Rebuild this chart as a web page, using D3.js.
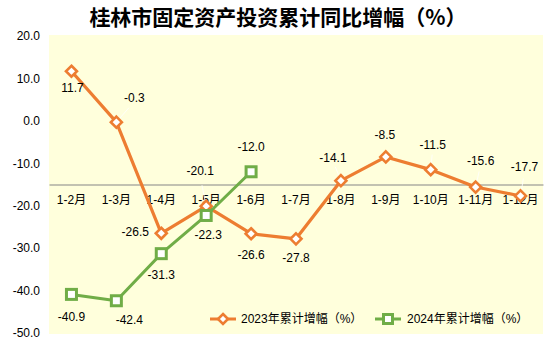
<!DOCTYPE html>
<html>
<head>
<meta charset="utf-8">
<script src="https://cdn.jsdelivr.net/npm/d3@7"></script>
<style>
  body { margin: 0; background: #fff; }
  text { font-family: "Liberation Sans", Arial, "Noto Sans CJK SC", sans-serif; }
</style>
</head>
<body>
<div id="chart"></div>
<script>
// data
const months = ["1-2月", "1-3月", "1-4月", "1-5月", "1-6月", "1-7月", "1-8月", "1-9月", "1-10月", "1-11月", "1-12月"];
const growth2023 = [11.7, -0.3, -26.5, -20.1, -26.6, -27.8, -14.1, -8.5, -11.5, -15.6, -17.7];
const growth2024 = [-40.9, -42.4, -31.3, -22.3, -12.0];
const seriesNames = ["2023年累计增幅（%）", "2024年累计增幅（%）"];
const yTicks = [20, 10, 0, -10, -20, -30, -40, -50];

// label placement (px offset from the marker), like the hand-moved labels in the original
const offsets2023 = [[1, 17], [18, -24], [-26, -1], [-6, -35], [0, 21], [0, 19], [-8, -23], [-1, -22], [2, -25], [5, -26], [4, -29]];
const offsets2024 = [[0, 22], [13, 19], [0, 21], [2, 19], [0, -25]];

const width = 557, height = 354;
const plot = { left: 49, right: 543, top: 35, bottom: 334 };
const orange = "#ED7D31", green = "#70AD47";

// plain hyphen minus, as in the original
const fmt = (d) => d.toFixed(1);

const svg = d3.select("#chart").append("svg")
    .attr("width", width)
    .attr("height", height);

// plot background
svg.append("rect")
    .attr("x", plot.left)
    .attr("y", plot.top)
    .attr("width", plot.right - plot.left)
    .attr("height", plot.bottom - plot.top)
    .attr("fill", "#FFFFDC");

const x = d3.scaleBand()
    .domain(months)
    .range([plot.left, plot.right]);

const cx = (d) => x(d) + x.bandwidth() / 2;

const y = d3.scaleLinear()
    .domain([-50, 20])
    .range([333, 36]);

// title
svg.append("text")
    .attr("x", 278)
    .attr("y", 25)
    .attr("text-anchor", "middle")
    .style("font-family", "'Noto Sans CJK SC', sans-serif")
    .attr("font-size", 21)
    .attr("font-weight", "bold")
    .attr("fill", "#000")
    .text("桂林市固定资产投资累计同比增幅（%）");

// y axis: labels only
const yAxis = svg.append("g")
    .attr("transform", "translate(" + plot.left + ",0)")
    .call(d3.axisLeft(y).tickValues(yTicks).tickSize(0).tickPadding(9).tickFormat(fmt));
yAxis.select(".domain").remove();
yAxis.selectAll("text")
    .attr("font-size", 12)
    .attr("fill", "#000")
    .style("font-family", "'Liberation Sans', Arial, sans-serif");

// category axis crosses at -15
const xAxis = svg.append("g")
    .attr("transform", "translate(0," + y(-15) + ")")
    .call(d3.axisBottom(x).tickSize(0).tickPadding(11));
xAxis.select(".domain")
    .attr("stroke", "#868686")
    .attr("stroke-width", 1.2);
xAxis.selectAll("text")
    .attr("font-size", 12)
    .attr("fill", "#000")
    .style("font-family", "'Liberation Sans', Arial, 'Noto Sans CJK SC', sans-serif");

const line = d3.line()
    .x((d, i) => cx(months[i]))
    .y((d) => y(d));

// leader lines for labels that were moved away from their point
function drawLeaders(values, offsets) {
    const idx = d3.range(values.length)
        .filter((i) => Math.abs(offsets[i][0]) + Math.abs(offsets[i][1]) > 26);
    svg.append("g").selectAll("line")
        .data(idx)
        .enter()
        .append("line")
        .attr("x1", (i) => cx(months[i]))
        .attr("y1", (i) => y(values[i]))
        .attr("x2", (i) => cx(months[i]) + offsets[i][0] * 0.7)
        .attr("y2", (i) => y(values[i]) + offsets[i][1] * 0.6)
        .attr("stroke", "#fff")
        .attr("stroke-width", 0.8);
}
drawLeaders(growth2023, offsets2023);

// 2023 series
svg.append("path")
    .datum(growth2023)
    .attr("d", line)
    .attr("fill", "none")
    .attr("stroke", orange)
    .attr("stroke-width", 3.2)
    .attr("stroke-linejoin", "round");

svg.append("g").selectAll("path")
    .data(growth2023)
    .enter()
    .append("path")
    .attr("d", "M0,-5.5L5.5,0L0,5.5L-5.5,0Z")
    .attr("transform", (d, i) => "translate(" + cx(months[i]) + "," + y(d) + ")")
    .attr("fill", "#fff")
    .attr("stroke", orange)
    .attr("stroke-width", 2.6);

// 2024 series
svg.append("path")
    .datum(growth2024)
    .attr("d", line)
    .attr("fill", "none")
    .attr("stroke", green)
    .attr("stroke-width", 3)
    .attr("stroke-linejoin", "round");

svg.append("g").selectAll("rect")
    .data(growth2024)
    .enter()
    .append("rect")
    .attr("x", (d, i) => cx(months[i]) - 5)
    .attr("y", (d) => y(d) - 5)
    .attr("width", 10)
    .attr("height", 10)
    .attr("fill", "#fff")
    .attr("stroke", green)
    .attr("stroke-width", 3);

// data labels
function drawLabels(values, offsets) {
    svg.append("g").selectAll("text")
        .data(values)
        .enter()
        .append("text")
        .attr("x", (d, i) => cx(months[i]) + offsets[i][0])
        .attr("y", (d, i) => y(d) + offsets[i][1])
        .attr("dy", "0.35em")
        .attr("text-anchor", "middle")
        .attr("font-size", 12)
        .attr("fill", "#000")
        .text(fmt);
}
drawLabels(growth2023, offsets2023);
drawLabels(growth2024, offsets2024);

// legend
const legend = svg.append("g").attr("transform", "translate(0,319)");
const legendItems = [
    { name: seriesNames[0], color: orange, x0: 210, tx: 241, shape: "diamond" },
    { name: seriesNames[1], color: green, x0: 375, tx: 407, shape: "square" }
];
legendItems.forEach((it) => {
    legend.append("line")
        .attr("x1", it.x0)
        .attr("x2", it.x0 + 26)
        .attr("y1", 0)
        .attr("y2", 0)
        .attr("stroke", it.color)
        .attr("stroke-width", 3);
    if (it.shape === "diamond") {
        legend.append("path")
            .attr("d", "M0,-5L5,0L0,5L-5,0Z")
            .attr("transform", "translate(" + (it.x0 + 13) + ",0)")
            .attr("fill", "#fff")
            .attr("stroke", it.color)
            .attr("stroke-width", 2.6);
    } else {
        legend.append("rect")
            .attr("x", it.x0 + 8.5)
            .attr("y", -4.5)
            .attr("width", 9)
            .attr("height", 9)
            .attr("fill", "#fff")
            .attr("stroke", it.color)
            .attr("stroke-width", 3);
    }
    legend.append("text")
        .attr("x", it.tx)
        .attr("y", 0)
        .attr("dy", "0.35em")
        .attr("font-size", 12)
        .attr("fill", "#000")
        .style("font-family", "'Liberation Sans', Arial, 'Noto Sans CJK SC', sans-serif")
        .text(it.name);
});
</script>
</body>
</html>
